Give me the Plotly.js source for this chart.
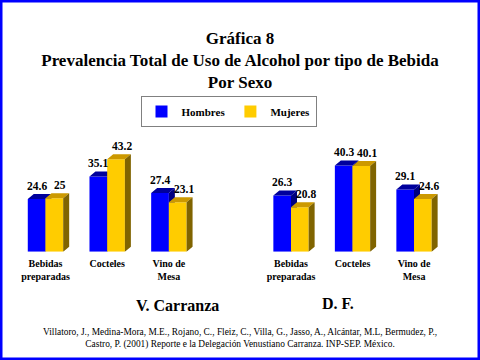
<!DOCTYPE html>
<html>
<head>
<meta charset="utf-8">
<script src="https://cdn.plot.ly/plotly-3.0.1.min.js"></script>
<style>html,body{margin:0;padding:0;background:#fff;}#chart{width:480px;height:360px;}</style>
</head>
<body>
<div id="chart"></div>
<script>
// ---- data ----
const categories = ['Bebidas<br>preparadas', 'Cocteles', 'Vino de<br>Mesa'];
const seriesNames = ['Hombres', 'Mujeres'];
const hombresVC = [24.6, 35.1, 27.4];
const mujeresVC = [25, 43.2, 23.1];
const hombresDF = [26.3, 40.3, 29.1];
const mujeresDF = [20.8, 40.1, 24.6];
const groupTitles = ['V. Carranza', 'D. F.'];
const titleLines = ['Gráfica 8', 'Prevalencia Total de Uso de Alcohol por tipo de Bebida', 'Por Sexo'];
const citation = 'Villatoro, J., Medina-Mora, M.E., Rojano, C., Fleiz, C., Villa, G., Jasso, A., Alcántar, M.L, Bermudez, P.,<br>Castro, P. (2001) Reporte e la Delegación Venustiano Carranza. INP-SEP. México.';

// ---- style ----
const SERIF = '"Liberation Serif", "Times New Roman", serif';
const W = 0.287;      // bar width (category units)
const DX = 0.097;     // 3D depth, x (category units)
const DY = 2.35;      // 3D depth, y (value units)
const LABEL_OFF = 6.2;  // value label offset (value units)
const colors = {
  Hombres: {front: '#0000FF', top: '#00009C', side: '#000080'},
  Mujeres: {front: '#FFCC00', top: '#CC9900', side: '#806400'}
};

const idx = categories.map((_, i) => i);
const traces = [];
const annotations = [];

function addSeries(vals, name, offset, xa, ya, showlegend, xshift) {
  const c = colors[name];
  traces.push({
    type: 'bar', x: idx, y: vals, offset: offset, width: W,
    name: name, showlegend: showlegend,
    marker: {color: c.front, line: {width: 0}},
    xaxis: xa, yaxis: ya, hoverinfo: 'skip'
  });
  const tx = [], ty = [], sx = [], sy = [];
  vals.forEach((v, i) => {
    const x0 = i + offset, x1 = x0 + W;
    tx.push(x0, x0 + DX, x1 + DX, x1, x0, null);
    ty.push(v, v + DY, v + DY, v, v, null);
    sx.push(x1, x1 + DX, x1 + DX, x1, x1, null);
    sy.push(0, DY, v + DY, v, 0, null);
    annotations.push({
      xref: xa, yref: ya, x: i + offset + W / 2, y: v + LABEL_OFF,
      text: '<b>' + String(v) + '</b>', showarrow: false, xshift: xshift,
      font: {family: SERIF, size: 11.5, color: '#000'}
    });
  });
  traces.push({type: 'scatter', mode: 'none', x: tx, y: ty, fill: 'toself', fillcolor: c.top,
    showlegend: false, xaxis: xa, yaxis: ya, hoverinfo: 'skip'});
  traces.push({type: 'scatter', mode: 'none', x: sx, y: sy, fill: 'toself', fillcolor: c.side,
    showlegend: false, xaxis: xa, yaxis: ya, hoverinfo: 'skip'});
}

addSeries(hombresVC, seriesNames[0], -W, 'x', 'y', true, 0);
addSeries(mujeresVC, seriesNames[1], 0, 'x3', 'y3', true, 6);
addSeries(hombresDF, seriesNames[0], -W, 'x2', 'y2', false, 0);
addSeries(mujeresDF, seriesNames[1], 0, 'x4', 'y4', false, 6);

const YR = [0, 50];
const YDOM = [0.3008, 0.598];
const tickfont = {family: SERIF, size: 10, color: '#000', weight: 'bold'};
const baseX = (dom) => ({domain: dom, range: [-0.5, 2.5], tickvals: idx, ticktext: categories,
  showgrid: false, zeroline: false, showline: false, ticks: '', ticklabelstandoff: 4,
  tickfont: tickfont, fixedrange: true});
const hidden = {visible: false, showgrid: false, zeroline: false, fixedrange: true};

annotations.push(
  {xref: 'paper', yref: 'paper', x: 134 / 480, y: 1 - 305 / 360, yanchor: 'middle',
   text: '<b>' + groupTitles[0] + '</b>', showarrow: false, font: {family: SERIF, size: 16, color: '#000'}},
  {xref: 'paper', yref: 'paper', x: 356 / 480, y: 1 - 303 / 360, yanchor: 'middle',
   text: '<b>' + groupTitles[1] + '</b>', showarrow: false, font: {family: SERIF, size: 16, color: '#000'}},
  {xref: 'paper', yref: 'paper', x: 0.5, y: 1 - 338.5 / 360, yanchor: 'middle', text: citation,
   showarrow: false, font: {family: SERIF, size: 9.4, color: '#000'}}
);

const layout = {
  width: 480, height: 360,
  margin: {l: 0, r: 0, t: 0, b: 0},
  paper_bgcolor: '#fff', plot_bgcolor: 'rgba(0,0,0,0)',
  title: {text: '<b>' + titleLines.join('<br>') + '</b>', x: 0.5, xanchor: 'center',
    y: 1 - 43.5 / 360, yanchor: 'top', font: {family: SERIF, size: 17, color: '#000'}},
  barmode: 'overlay',
  showlegend: true,
  legend: {orientation: 'h', x: 228.5 / 480, xanchor: 'center', y: 1 - 96 / 360, yanchor: 'top',
    bordercolor: '#808080', borderwidth: 1, bgcolor: '#fff',
    font: {family: SERIF, size: 11, color: '#000', weight: 'bold'}},
  xaxis: Object.assign(baseX([0.0305, 0.4161]), {anchor: 'y'}),
  yaxis: Object.assign({domain: YDOM, range: YR, anchor: 'x'}, hidden),
  xaxis2: Object.assign(baseX([0.5422, 0.9266]), {anchor: 'y2'}),
  yaxis2: Object.assign({domain: YDOM, range: YR, anchor: 'x2'}, hidden),
  xaxis3: Object.assign({overlaying: 'x', range: [-0.5, 2.5], anchor: 'y3'}, hidden),
  yaxis3: Object.assign({overlaying: 'y', range: YR, anchor: 'x3'}, hidden),
  xaxis4: Object.assign({overlaying: 'x2', range: [-0.5, 2.5], anchor: 'y4'}, hidden),
  yaxis4: Object.assign({overlaying: 'y2', range: YR, anchor: 'x4'}, hidden),
  annotations: annotations,
  shapes: [{type: 'rect', xref: 'paper', yref: 'paper', x0: 0, y0: 0, x1: 1, y1: 1,
    line: {color: '#0000FF', width: 5}, fillcolor: 'rgba(0,0,0,0)'}]
};

Plotly.newPlot('chart', traces, layout, {displayModeBar: false, staticPlot: true});
</script>
</body>
</html>
